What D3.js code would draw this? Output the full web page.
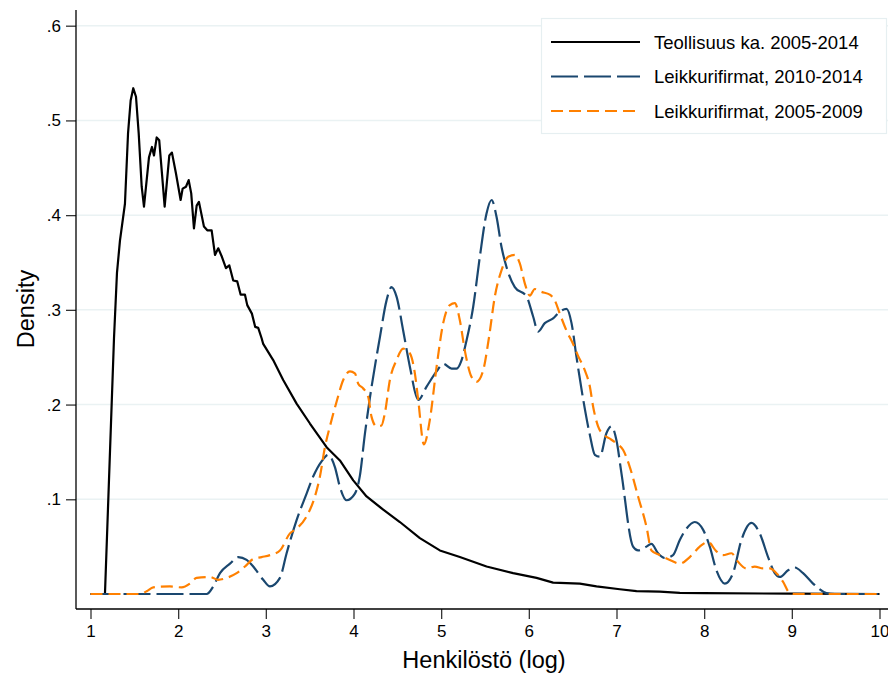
<!DOCTYPE html>
<html>
<head>
<meta charset="utf-8">
<script src="https://cdn.jsdelivr.net/npm/d3@7/dist/d3.min.js"></script>
<style>
  html, body { margin: 0; padding: 0; background: #ffffff; }
  svg { display: block; }
  text { font-family: "Liberation Sans", Arial, Helvetica, sans-serif; fill: #000; }
</style>
</head>
<body>
<svg id="chart" width="888" height="674"></svg>
<script>
// ---- Data ----
const xTicks = [1, 2, 3, 4, 5, 6, 7, 8, 9, 10];
const yTicks = [0.1, 0.2, 0.3, 0.4, 0.5, 0.6];
const yTickLabels = [".1", ".2", ".3", ".4", ".5", ".6"];

const seriesNames = ["Teollisuus ka. 2005-2014", "Leikkurifirmat, 2010-2014", "Leikkurifirmat, 2005-2009"];

// Teollisuus ka. 2005-2014
const industryX = [1.0, 1.165, 1.268, 1.302, 1.336, 1.393, 1.428, 1.458, 1.488, 1.519, 1.550, 1.584, 1.610, 1.667, 1.701, 1.724, 1.755, 1.784, 1.815, 1.846, 1.899, 1.929, 1.975, 2.028, 2.051, 2.089, 2.120, 2.149, 2.180, 2.211, 2.237, 2.294, 2.332, 2.382, 2.420, 2.457, 2.499, 2.545, 2.583, 2.628, 2.674, 2.713, 2.762, 2.788, 2.841, 2.879, 2.913, 2.952, 2.970, 3.084, 3.198, 3.351, 3.503, 3.693, 3.845, 3.997, 4.149, 4.339, 4.529, 4.757, 4.985, 5.213, 5.518, 5.821, 6.088, 6.277, 6.582, 6.772, 7.038, 7.228, 7.494, 7.722, 8.0, 9.0, 10.0];
const industryY = [0, 0, 0.27, 0.339, 0.373, 0.412, 0.486, 0.521, 0.534, 0.525, 0.486, 0.43, 0.409, 0.461, 0.472, 0.463, 0.482, 0.479, 0.444, 0.409, 0.463, 0.466, 0.444, 0.416, 0.428, 0.43, 0.437, 0.423, 0.386, 0.41, 0.414, 0.388, 0.384, 0.384, 0.358, 0.365, 0.356, 0.344, 0.347, 0.331, 0.33, 0.316, 0.316, 0.305, 0.296, 0.282, 0.281, 0.27, 0.264, 0.247, 0.226, 0.201, 0.18, 0.155, 0.141, 0.12, 0.103, 0.089, 0.076, 0.059, 0.046, 0.039, 0.029, 0.022, 0.017, 0.012, 0.011, 0.008, 0.005, 0.003, 0.0025, 0.0012, 0.001, 0.0003, 0];

// Leikkurifirmat, 2010-2014
const recentX = [1.0, 2.325, 2.400, 2.477, 2.591, 2.685, 2.781, 2.856, 2.970, 3.047, 3.161, 3.237, 3.351, 3.465, 3.540, 3.636, 3.712, 3.788, 3.845, 3.921, 4.016, 4.073, 4.130, 4.187, 4.301, 4.377, 4.434, 4.491, 4.567, 4.643, 4.738, 4.834, 4.948, 5.023, 5.119, 5.176, 5.233, 5.290, 5.365, 5.441, 5.518, 5.575, 5.632, 5.689, 5.746, 5.840, 5.974, 6.049, 6.106, 6.182, 6.277, 6.353, 6.430, 6.487, 6.544, 6.619, 6.696, 6.753, 6.810, 6.886, 6.943, 7.000, 7.057, 7.189, 7.246, 7.342, 7.399, 7.474, 7.551, 7.645, 7.722, 7.798, 7.893, 7.987, 8.064, 8.140, 8.235, 8.329, 8.425, 8.539, 8.634, 8.729, 8.805, 8.862, 8.957, 9.033, 9.128, 9.242, 9.395, 9.49, 10.0];
const recentY = [0, 0, 0.008, 0.022, 0.032, 0.039, 0.036, 0.029, 0.015, 0.008, 0.017, 0.043, 0.078, 0.106, 0.124, 0.14, 0.147, 0.134, 0.113, 0.099, 0.106, 0.125, 0.169, 0.207, 0.271, 0.31, 0.324, 0.314, 0.278, 0.24, 0.205, 0.219, 0.235, 0.243, 0.238, 0.238, 0.247, 0.268, 0.303, 0.356, 0.402, 0.416, 0.398, 0.366, 0.345, 0.324, 0.314, 0.293, 0.277, 0.286, 0.291, 0.298, 0.301, 0.286, 0.25, 0.206, 0.168, 0.147, 0.145, 0.17, 0.177, 0.162, 0.127, 0.05, 0.046, 0.05, 0.053, 0.043, 0.038, 0.041, 0.057, 0.069, 0.076, 0.068, 0.05, 0.025, 0.011, 0.022, 0.057, 0.075, 0.064, 0.039, 0.022, 0.018, 0.025, 0.028, 0.022, 0.011, 0.001, 0, 0];

// Leikkurifirmat, 2005-2009
const earlyX = [1.0, 1.564, 1.641, 1.716, 1.906, 2.040, 2.135, 2.211, 2.363, 2.457, 2.553, 2.667, 2.762, 2.856, 2.952, 3.047, 3.161, 3.275, 3.351, 3.465, 3.560, 3.617, 3.674, 3.731, 3.807, 3.883, 3.959, 4.016, 4.054, 4.111, 4.168, 4.206, 4.263, 4.320, 4.358, 4.415, 4.491, 4.567, 4.643, 4.700, 4.738, 4.803, 4.871, 4.948, 5.023, 5.099, 5.156, 5.213, 5.270, 5.347, 5.404, 5.479, 5.544, 5.612, 5.689, 5.764, 5.840, 5.897, 5.954, 6.011, 6.068, 6.145, 6.239, 6.296, 6.353, 6.430, 6.505, 6.559, 6.639, 6.696, 6.733, 6.790, 6.855, 6.924, 7.000, 7.076, 7.152, 7.246, 7.342, 7.399, 7.494, 7.608, 7.722, 7.836, 7.950, 8.044, 8.140, 8.215, 8.311, 8.386, 8.482, 8.577, 8.672, 8.748, 8.824, 8.899, 8.976, 9.03, 10.0];
const earlyY = [0, 0, 0.003, 0.007, 0.008, 0.007, 0.011, 0.017, 0.018, 0.015, 0.017, 0.022, 0.029, 0.037, 0.039, 0.041, 0.046, 0.064, 0.069, 0.082, 0.103, 0.124, 0.155, 0.177, 0.203, 0.226, 0.235, 0.233, 0.222, 0.217, 0.208, 0.187, 0.177, 0.178, 0.191, 0.226, 0.247, 0.259, 0.254, 0.233, 0.205, 0.158, 0.184, 0.24, 0.286, 0.305, 0.307, 0.289, 0.257, 0.229, 0.224, 0.236, 0.27, 0.314, 0.342, 0.356, 0.358, 0.349, 0.328, 0.315, 0.322, 0.319, 0.316, 0.31, 0.296, 0.278, 0.264, 0.252, 0.236, 0.219, 0.198, 0.177, 0.168, 0.164, 0.159, 0.152, 0.134, 0.103, 0.071, 0.046, 0.041, 0.036, 0.032, 0.039, 0.05, 0.055, 0.045, 0.041, 0.043, 0.034, 0.027, 0.029, 0.027, 0.027, 0.022, 0.013, 0.001, 0, 0];

// ---- Layout ----
const svg = d3.select("#chart");
const W = 888, H = 674;
const axisLeft = 76, axisBottom = 609, plotTop = 10, plotRight = 888;

const x = d3.scaleLinear().domain([1, 10]).range([90.5, 879.5]);
const y = d3.scaleLinear().domain([0, 0.6]).range([594, 25.7]);

// gridlines
svg.append("g").selectAll("line").data(yTicks).join("line")
  .attr("x1", axisLeft).attr("x2", plotRight)
  .attr("y1", d => y(d)).attr("y2", d => y(d))
  .attr("stroke", "#eaf2f3").attr("stroke-width", 1.5);

// y axis
const yAxis = d3.axisLeft(y).tickValues(yTicks)
  .tickFormat((d, i) => yTickLabels[i]).tickSize(10).tickPadding(5);
const gy = svg.append("g").attr("transform", `translate(${axisLeft},0)`).call(yAxis);
gy.select(".domain").remove();
gy.append("line").attr("x1", 0).attr("x2", 0).attr("y1", plotTop).attr("y2", axisBottom)
  .attr("stroke", "#000").attr("stroke-width", 1.3);
gy.selectAll(".tick line").attr("stroke", "#333").attr("stroke-width", 1.3);
gy.selectAll(".tick text").attr("font-size", 17).attr("fill", "#000")
  .attr("font-family", "'Liberation Sans', Arial, sans-serif");

// x axis
const xAxis = d3.axisBottom(x).tickValues(xTicks).tickFormat(d3.format("d"))
  .tickSize(10).tickPadding(6);
const gx = svg.append("g").attr("transform", `translate(0,${axisBottom})`).call(xAxis);
gx.select(".domain").remove();
gx.append("line").attr("x1", axisLeft).attr("x2", plotRight).attr("y1", 0).attr("y2", 0)
  .attr("stroke", "#000").attr("stroke-width", 1.3);
gx.selectAll(".tick line").attr("stroke", "#333").attr("stroke-width", 1.3);
gx.selectAll(".tick text").attr("font-size", 17).attr("fill", "#000")
  .attr("font-family", "'Liberation Sans', Arial, sans-serif");

// axis titles
svg.append("text").attr("x", 484).attr("y", 668).attr("text-anchor", "middle")
  .attr("font-size", 23.5).text("Henkilöstö (log)");
svg.append("text").attr("transform", "translate(34,309) rotate(-90)")
  .attr("text-anchor", "middle").attr("font-size", 23.5).text("Density");

// lines
const series = [
  { name: seriesNames[0], xs: industryX, ys: industryY, color: "#000000", dash: null, curve: d3.curveLinear },
  { name: seriesNames[1], xs: recentX, ys: recentY, color: "#1a476f", dash: "27,6", curve: d3.curveMonotoneX },
  { name: seriesNames[2], xs: earlyX, ys: earlyY, color: "#ff8000", dash: "12,6", curve: d3.curveMonotoneX }
];

series.forEach(s => {
  const pts = s.xs.map((v, i) => [v, s.ys[i]]);
  const line = d3.line().x(d => x(d[0])).y(d => y(d[1])).curve(s.curve);
  svg.append("path").datum(pts)
    .attr("d", line)
    .attr("fill", "none")
    .attr("stroke", s.color)
    .attr("stroke-width", 2.2)
    .attr("stroke-linejoin", "round")
    .attr("stroke-dasharray", s.dash);
});

// legend
const lg = svg.append("g");
lg.append("rect").attr("x", 541.5).attr("y", 18.5).attr("width", 345).attr("height", 115)
  .attr("fill", "#fff").attr("stroke", "#e6eff1").attr("stroke-width", 1.2);
series.forEach((s, i) => {
  const ly = 42 + i * 34.5;
  lg.append("line").attr("x1", 551).attr("x2", 640).attr("y1", ly).attr("y2", ly)
    .attr("stroke", s.color).attr("stroke-width", 2.2)
    .attr("stroke-dasharray", s.dash);
  lg.append("text").attr("x", 654).attr("y", ly + 6.5).attr("font-size", 18.5).text(s.name);
});
</script>
</body>
</html>
